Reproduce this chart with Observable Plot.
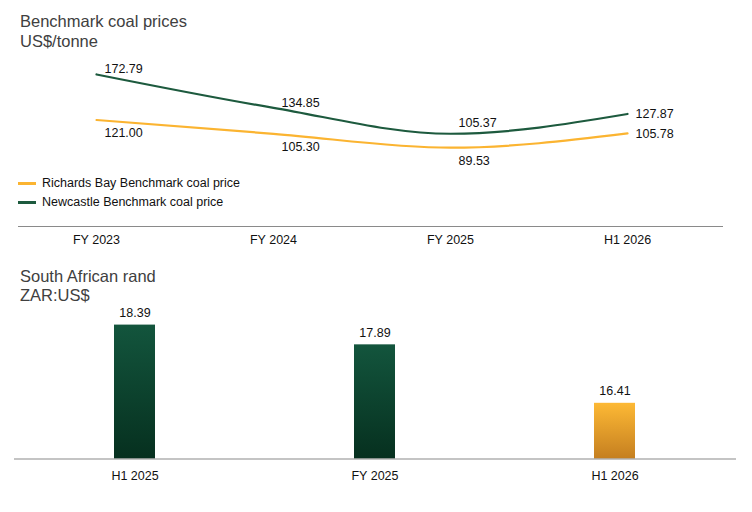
<!DOCTYPE html>
<html><head><meta charset="utf-8">
<script src="https://cdn.jsdelivr.net/npm/d3@7"></script>
<script src="https://cdn.jsdelivr.net/npm/@observablehq/plot@0.6"></script>
<style>
body{margin:0;background:#fff;font-family:"Liberation Sans",Arial,sans-serif;}
#wrap{position:relative;width:752px;height:512px;overflow:hidden;background:#fff}
.title{box-sizing:border-box;height:50px;padding-left:20px;font-size:16.5px;line-height:19.5px;color:#404040}
.legend{position:absolute;left:18px;top:173.6px;font-size:12.5px;color:#111}
.legend .row{display:flex;align-items:center;height:19.4px;line-height:19.4px;white-space:nowrap}
.legend .sw{width:18px;height:3px;margin-right:6px}
svg{display:block}
</style></head><body>
<div id="wrap">
<div class="title" style="padding-top:12px">Benchmark coal prices<br>US$/tonne</div>
<div id="top"></div>
<div class="title" style="padding-top:10.5px">South African rand<br>ZAR:US$</div>
<div id="bottom"></div>
<div class="legend" id="legend"></div>
</div>
<script>
// ---- data ----
const periods = ["FY 2023", "FY 2024", "FY 2025", "H1 2026"];
const richardsBay = [121.00, 105.30, 89.53, 105.78];
const newcastle = [172.79, 134.85, 105.37, 127.87];
const seriesNames = ["Richards Bay Benchmark coal price", "Newcastle Benchmark coal price"];
const seriesColors = ["#fbb431", "#1d5a3e"];

const randPeriods = ["H1 2025", "FY 2025", "H1 2026"];
const randValues = [18.39, 17.89, 16.41];
const randBase = 15;

const fmt = d3.format(".2f");
const font = '"Liberation Sans", Arial, sans-serif';
const last = periods.length - 1;

const lineData = periods.flatMap((p, i) => [
  {period: p, series: seriesNames[0], value: richardsBay[i], i},
  {period: p, series: seriesNames[1], value: newcastle[i], i}
]);
// a point lower than both neighbours (label lifted further clear of the curve)
const isLocalMin = d => {
  const arr = d.series === seriesNames[0] ? richardsBay : newcastle;
  return d.i > 0 && d.i < last && arr[d.i] < arr[d.i - 1] && arr[d.i] < arr[d.i + 1];
};
const ncMid = lineData.filter(d => d.series === seriesNames[1] && d.i < last);

const topPlot = Plot.plot({
  width: 752, height: 206,
  marginTop: 0, marginBottom: 30, marginLeft: 18, marginRight: 29,
  style: {fontFamily: font, fontSize: "12.5px", color: "#111", background: "#fff", overflow: "visible"},
  x: {type: "point", domain: periods, range: [95.5, 627], padding: 0},
  y: {domain: [0, 200], axis: null},
  color: {domain: seriesNames, range: seriesColors},
  marks: [
    Plot.ruleY([0], {stroke: "#8a8a8a", strokeWidth: 1.2}),
    Plot.axisX({tickSize: 0, tickPadding: 9, fontSize: 12.5, fill: "#111", label: null}),
    Plot.line(lineData, {x: "period", y: "value", z: "series", stroke: "series", strokeWidth: 2.2, curve: "monotone-x"}),
    Plot.text(ncMid.filter(d => !isLocalMin(d)),
      {x: "period", y: "value", text: d => fmt(d.value), textAnchor: "start", dx: 8, dy: -5, fill: "#111", fontSize: 12.5}),
    Plot.text(ncMid.filter(d => isLocalMin(d)),
      {x: "period", y: "value", text: d => fmt(d.value), textAnchor: "start", dx: 8, dy: -11, fill: "#111", fontSize: 12.5}),
    Plot.text(lineData.filter(d => d.series === seriesNames[0] && d.i < last),
      {x: "period", y: "value", text: d => fmt(d.value), textAnchor: "start", dx: 8, dy: 13, fill: "#111", fontSize: 12.5}),
    Plot.text(lineData.filter(d => d.i === last),
      {x: "period", y: "value", text: d => fmt(d.value), textAnchor: "start", dx: 8, dy: 0.5, fill: "#111", fontSize: 12.5})
  ]
});
document.getElementById("top").append(topPlot);

// legend
const legend = document.getElementById("legend");
seriesNames.forEach((name, k) => {
  const row = document.createElement("div");
  row.className = "row";
  const sw = document.createElement("span");
  sw.className = "sw";
  sw.style.background = seriesColors[k];
  const lab = document.createElement("span");
  lab.textContent = name;
  row.append(sw, lab);
  legend.append(row);
});

// bottom
const randData = randPeriods.map((p, i) => ({period: p, value: randValues[i]}));
const latestRand = randPeriods[randPeriods.length - 1];

const gradients = () => {
  const ns = "http://www.w3.org/2000/svg";
  const d = document.createElementNS(ns, "defs");
  d.innerHTML =
    '<linearGradient id="gGreen" x1="0" y1="0" x2="0" y2="1">' +
    '<stop offset="0" stop-color="#13553d"/><stop offset="1" stop-color="#06301f"/></linearGradient>' +
    '<linearGradient id="gOrange" x1="0" y1="0" x2="0" y2="1">' +
    '<stop offset="0" stop-color="#fdb935"/><stop offset="1" stop-color="#c57f20"/></linearGradient>';
  return d;
};

const bottomPlot = Plot.plot({
  width: 752, height: 206,
  marginTop: 14.25, marginBottom: 53.5, marginLeft: 14, marginRight: 16,
  style: {fontFamily: font, fontSize: "12.5px", color: "#111", background: "#fff", overflow: "visible"},
  x: {type: "band", domain: randPeriods, paddingInner: 0.829, paddingOuter: 0.4145},
  y: {domain: [randBase, 18.5], axis: null},
  color: {type: "identity"},
  marks: [
    gradients,
    Plot.barY(randData, {x: "period", y1: randBase, y2: "value",
      fill: d => d.period === latestRand ? "url(#gOrange)" : "url(#gGreen)"}),
    Plot.ruleY([randBase], {stroke: "#8a8a8a", strokeWidth: 1.2}),
    Plot.axisX({tickSize: 0, tickPadding: 12, fontSize: 12.5, fill: "#111", label: null}),
    Plot.text(randData, {x: "period", y: "value", text: d => fmt(d.value), dy: -12, fill: "#111", fontSize: 12.5})
  ]
});
document.getElementById("bottom").append(bottomPlot);
</script>
</body></html>
